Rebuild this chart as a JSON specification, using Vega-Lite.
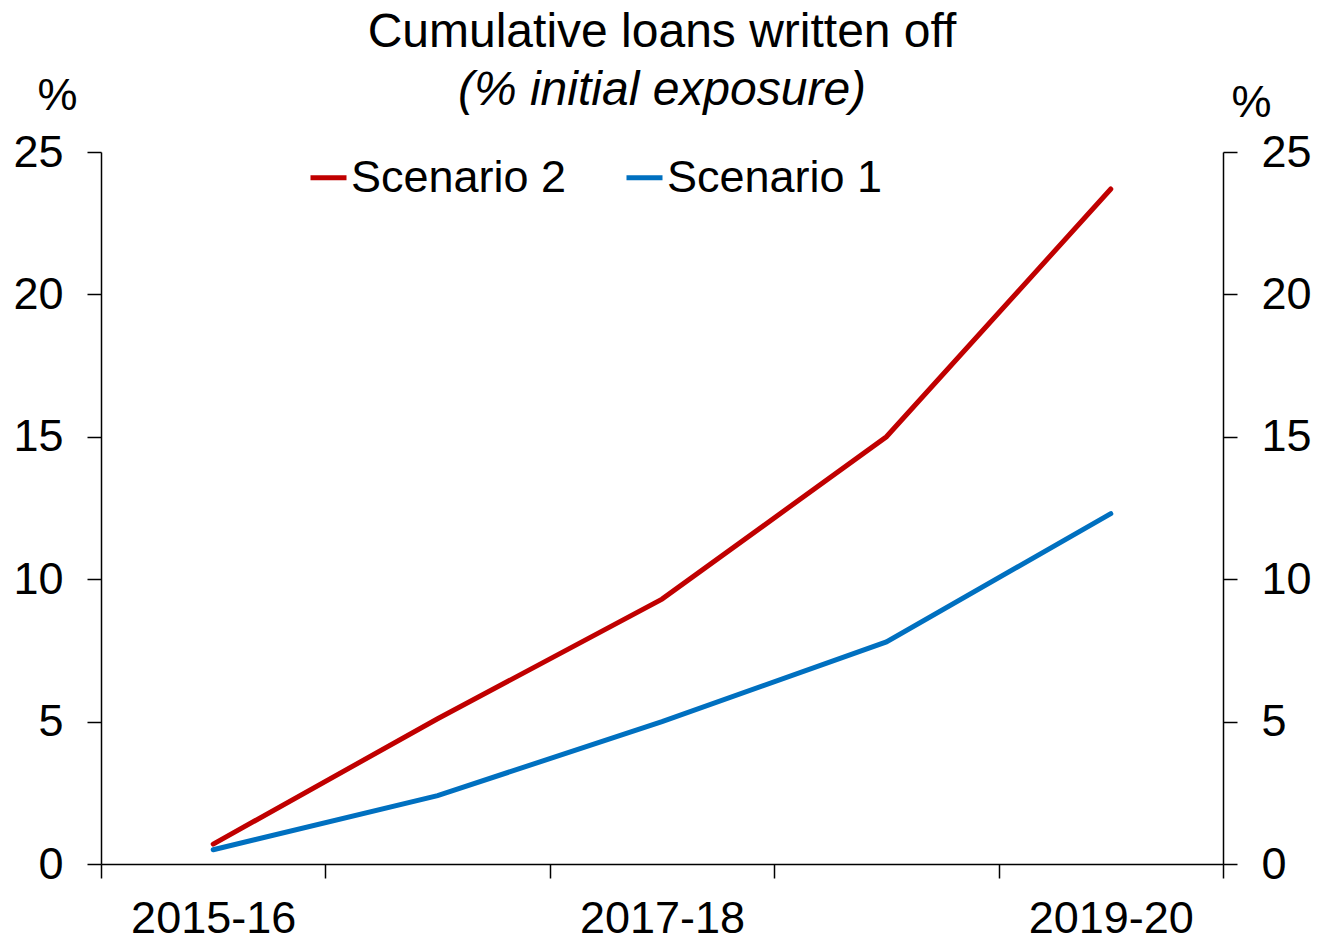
{
  "$schema": "https://vega.github.io/schema/vega-lite/v6.json",
  "autosize": "none",
  "width": 1122,
  "height": 712,
  "padding": {"left": 101, "top": 152, "right": 94, "bottom": 74},
  "background": "white",
  "config": {
    "font": "Liberation Sans",
    "view": {"stroke": null},
    "axis": {"domainColor": "black", "tickColor": "black", "labelColor": "black", "titleColor": "black", "grid": false, "labelFont": "Liberation Sans", "titleFont": "Liberation Sans"}
  },
  "title": {
    "text": "Cumulative loans written off",
    "subtitle": "(% initial exposure)",
    "anchor": "middle",
    "font": "Liberation Sans",
    "fontSize": 48,
    "fontWeight": "normal",
    "color": "black",
    "subtitleFont": "Liberation Sans",
    "subtitleFontSize": 48,
    "subtitleFontStyle": "italic",
    "subtitleColor": "black",
    "subtitlePadding": 10,
    "offset": -42,
    "baseline": "top"
  },
  "data": {
    "values": [
      {"year": "2015-16", "series": "Scenario 2", "value": 0.7},
      {"year": "2016-17", "series": "Scenario 2", "value": 5.1},
      {"year": "2017-18", "series": "Scenario 2", "value": 9.3},
      {"year": "2018-19", "series": "Scenario 2", "value": 15.0},
      {"year": "2019-20", "series": "Scenario 2", "value": 23.7},
      {"year": "2015-16", "series": "Scenario 1", "value": 0.5},
      {"year": "2016-17", "series": "Scenario 1", "value": 2.4},
      {"year": "2017-18", "series": "Scenario 1", "value": 5.0},
      {"year": "2018-19", "series": "Scenario 1", "value": 7.8},
      {"year": "2019-20", "series": "Scenario 1", "value": 12.3}
    ]
  },
  "encoding": {
    "x": {
      "field": "year",
      "type": "ordinal",
      "bandPosition": 0.5,
      "scale": {"type": "band", "paddingInner": 0, "paddingOuter": 0},
      "axis": {
        "title": null,
        "orient": "bottom",
        "tickBand": "extent",
        "tickSize": 14,
        "tickWidth": 1.5,
        "domainWidth": 1.5,
        "labelFontSize": 45,
        "labelPadding": 18,
        "labelAngle": 0,
        "labelExpr": "indexof(['2015-16','2017-18','2019-20'], datum.value) >= 0 ? datum.value : ''"
      }
    }
  },
  "layer": [
    {
      "mark": {"type": "line", "strokeWidth": 5, "strokeCap": "round", "strokeJoin": "miter"},
      "encoding": {
        "y": {
          "field": "value",
          "type": "quantitative",
          "scale": {"domain": [0, 25]},
          "axis": {
            "orient": "left",
            "values": [0, 5, 10, 15, 20, 25],
            "title": "%",
            "titleAngle": 0,
            "titleX": -44,
            "titleY": -57,
            "titleAlign": "center",
            "titleBaseline": "middle",
            "titleFontSize": 45,
            "titleFontWeight": "normal",
            "tickSize": 14,
            "tickWidth": 1.5,
            "domainWidth": 1.5,
            "labelFontSize": 45,
            "labelPadding": 24
          }
        },
        "color": {
          "field": "series",
          "type": "nominal",
          "scale": {"domain": ["Scenario 2", "Scenario 1"], "range": ["#C00000", "#0070C0"]},
          "legend": {
            "title": null,
            "orient": "none",
            "direction": "horizontal",
            "legendX": 205,
            "legendY": 3,
            "symbolType": "stroke",
            "symbolSize": 1296,
            "symbolStrokeWidth": 5,
            "labelFontSize": 45,
            "labelFont": "Liberation Sans",
            "labelColor": "black",
            "labelOffset": 0,
            "columnPadding": 49,
            "labelLimit": 400
          }
        }
      }
    },
    {
      "mark": {"type": "line", "opacity": 0},
      "encoding": {
        "y": {
          "field": "value",
          "type": "quantitative",
          "scale": {"domain": [0, 25]},
          "axis": {
            "orient": "right",
            "values": [0, 5, 10, 15, 20, 25],
            "title": "%",
            "titleAngle": 0,
            "titleX": 28,
            "titleY": -50,
            "titleAlign": "center",
            "titleBaseline": "middle",
            "titleFontSize": 45,
            "titleFontWeight": "normal",
            "tickSize": 14,
            "tickWidth": 1.5,
            "domainWidth": 1.5,
            "labelFontSize": 45,
            "labelPadding": 24
          }
        },
        "detail": {"field": "series", "type": "nominal"}
      }
    }
  ],
  "resolve": {"axis": {"y": "independent"}}
}
